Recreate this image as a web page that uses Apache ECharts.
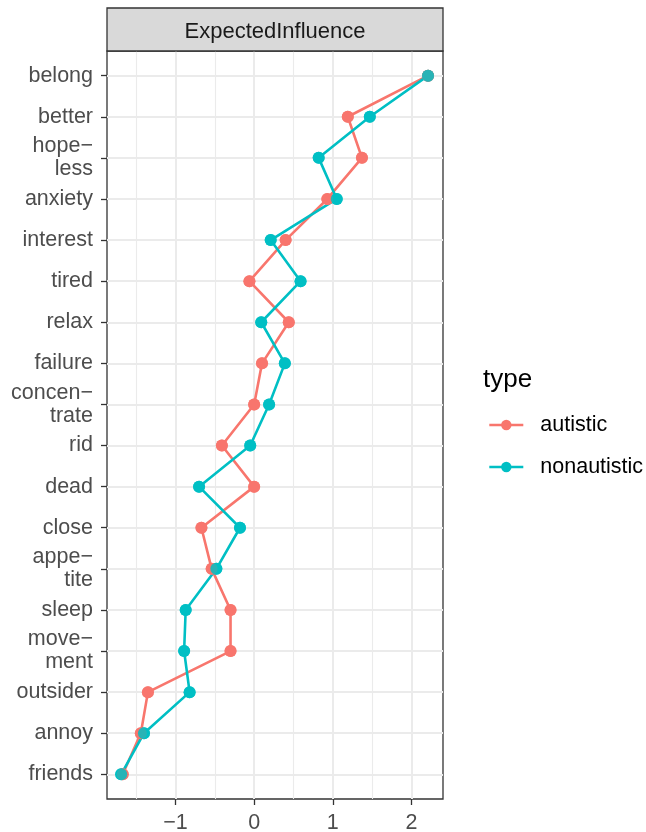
<!DOCTYPE html>
<html>
<head>
<meta charset="utf-8">
<script src="https://cdn.jsdelivr.net/npm/echarts@6/dist/echarts.min.js"></script>
<style>
html,body{margin:0;padding:0;background:#fff;}
#chart{width:646px;height:832px;}
</style>
</head>
<body>
<div id="chart"></div>
<script>
// ---- data ----
const categories = ['belong','better','hope−\nless','anxiety','interest','tired','relax','failure','concen−\ntrate','rid','dead','close','appe−\ntite','sleep','move−\nment','outsider','annoy','friends'];
const autistic =    [2.21, 1.19, 1.37, 0.93, 0.40, -0.06, 0.44, 0.10, 0.00, -0.41, 0.00, -0.67, -0.54, -0.30, -0.30, -1.35, -1.44, -1.67];
const nonautistic = [2.21, 1.47, 0.82, 1.05, 0.21, 0.59, 0.09, 0.39, 0.19, -0.05, -0.70, -0.18, -0.48, -0.87, -0.89, -0.82, -1.40, -1.69];
const seriesNames = ['autistic', 'nonautistic'];
const xMajorTicks = [-1, 0, 1, 2];
const xMinorTicks = [-1.5, -0.5, 0.5, 1.5];
const stripLabel = 'ExpectedInfluence';
const legendTitle = 'type';

const colors = ['#F8766D', '#00BFC4'];
const FONT = '"Liberation Sans", Arial, Helvetica, sans-serif';
const rowIdx = categories.map((c, i) => i + 1);
const toPts = arr => arr.map((v, i) => [v, i + 1]);

const chart = echarts.init(document.getElementById('chart'), null, {renderer: 'canvas'});
const gridL = 107, gridR = 203, gridT = 51, gridB = 33;

const option = {
  backgroundColor: '#fff',
  animation: false,
  grid: {left: gridL, right: gridR, top: gridT, bottom: gridB, show: true, outerBoundsMode: 'none', containLabel: false,
         borderColor: '#333333', borderWidth: 1.3, backgroundColor: '#fff'},
  xAxis: [
    {type: 'value', min: -1.87, max: 2.40, gridIndex: 0, position: 'bottom',
     axisLine: {show: false, onZero: false},
     axisTick: {show: true, customValues: xMajorTicks, length: 6, lineStyle: {color: '#333', width: 1.3}},
     axisLabel: {show: true, customValues: xMajorTicks, margin: 13, fontSize: 21.5, color: '#4D4D4D', fontFamily: FONT,
                 formatter: v => String(v).replace('-', '−')},
     splitLine: {show: true, lineStyle: {color: '#EBEBEB', width: 2}}},
    {type: 'value', min: -1.87, max: 2.40, gridIndex: 0, position: 'top',
     axisLine: {show: false, onZero: false},
     axisTick: {show: false, customValues: xMinorTicks},
     axisLabel: {show: false, customValues: xMinorTicks},
     splitLine: {show: true, lineStyle: {color: '#EBEBEB', width: 1.1}}}
  ],
  yAxis: {type: 'value', min: 0.4, max: 18.6, inverse: true,
    axisLine: {show: false, onZero: false},
    axisTick: {show: true, customValues: rowIdx, length: 6, lineStyle: {color: '#333', width: 1.3}},
    axisLabel: {show: true, customValues: rowIdx, margin: 14, fontSize: 21.5, lineHeight: 23, color: '#4D4D4D', fontFamily: FONT,
                align: 'right', padding: [3, 0, 0, 0], formatter: v => categories[Math.round(v) - 1]},
    splitLine: {show: true, lineStyle: {color: '#EBEBEB', width: 2}}},
  legend: {
    orient: 'vertical', left: 488, top: 414, padding: 0,
    itemWidth: 34, itemHeight: 13, itemGap: 20,
    data: seriesNames,
    lineStyle: {width: 2.6},
    textStyle: {fontSize: 21.5, color: '#000', fontFamily: FONT, padding: [0, 0, 0, 12]}
  },
  graphic: [
    {type: 'rect', shape: {x: gridL, y: 8, width: 646 - gridL - gridR, height: gridT - 8},
     style: {fill: '#D9D9D9', stroke: '#333333', lineWidth: 1.3}, z: 100},
    {type: 'text', x: gridL + (646 - gridL - gridR) / 2, y: (8 + gridT) / 2 + 2,
     style: {text: stripLabel, fill: '#1A1A1A', font: '22px ' + FONT, textAlign: 'center', textVerticalAlign: 'middle'}, z: 101},
    {type: 'text', x: 483, y: 380,
     style: {text: legendTitle, fill: '#000', font: '26px ' + FONT, textAlign: 'left', textVerticalAlign: 'middle'}, z: 101}
  ],
  series: [
    {name: seriesNames[0], type: 'line', data: toPts(autistic), xAxisIndex: 0,
     symbol: 'circle', symbolSize: 12, lineStyle: {color: colors[0], width: 2.6}, itemStyle: {color: colors[0]}, z: 2},
    {name: seriesNames[1], type: 'line', data: toPts(nonautistic), xAxisIndex: 0,
     symbol: 'circle', symbolSize: 12, lineStyle: {color: colors[1], width: 2.6}, itemStyle: {color: colors[1]}, z: 2},
    {name: seriesNames[0], type: 'scatter', data: toPts(autistic), xAxisIndex: 0,
     symbol: 'circle', symbolSize: 12, itemStyle: {color: colors[0]}, z: 3},
    {name: seriesNames[1], type: 'scatter', data: toPts(nonautistic), xAxisIndex: 0,
     symbol: 'circle', symbolSize: 12, itemStyle: {color: colors[1]}, z: 3}
  ]
};
chart.setOption(option);
</script>
</body>
</html>
